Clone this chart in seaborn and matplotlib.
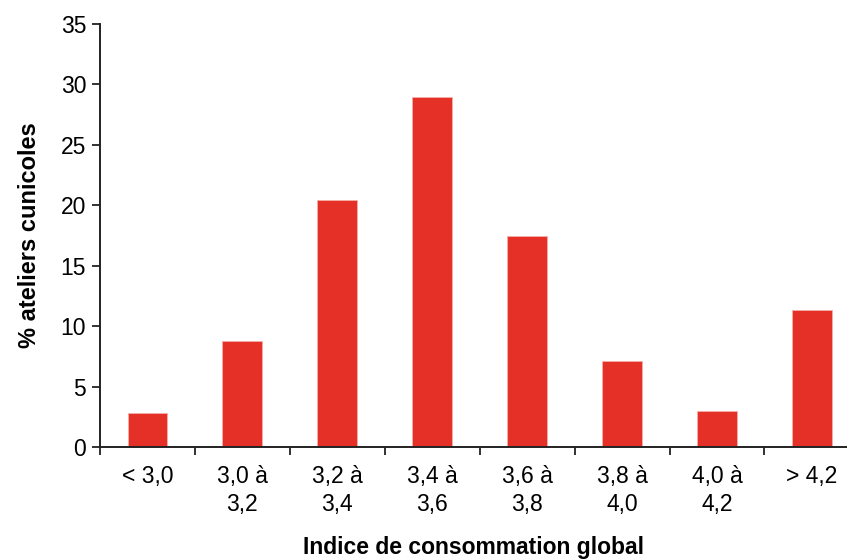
import matplotlib
matplotlib.use("Agg")
import matplotlib.pyplot as plt
import seaborn as sns
import pandas as pd
from matplotlib.ticker import FixedLocator

categories = ["< 3,0", "3,0 à\n3,2", "3,2 à\n3,4", "3,4 à\n3,6", "3,6 à\n3,8", "3,8 à\n4,0", "4,0 à\n4,2", "> 4,2"]
values = [2.8, 8.8, 20.4, 29.0, 17.5, 7.1, 3.0, 11.3]
y_ticks = [0, 5, 10, 15, 20, 25, 30, 35]

sns.set_theme(style="white")
plt.rcParams['font.family'] = ['Liberation Sans', 'DejaVu Sans']
plt.rcParams['text.color'] = 'black'
plt.rcParams['axes.labelcolor'] = 'black'
plt.rcParams['xtick.color'] = 'black'
plt.rcParams['ytick.color'] = 'black'

df = pd.DataFrame({"cat": categories, "val": values})

fig = plt.figure(figsize=(8.47, 5.59), dpi=100)
ax = fig.add_axes([100/847, 1-447/559, 1-100/847, (447-24)/559])

sns.barplot(data=df, x="cat", y="val", color="#E53027", saturation=1,
            width=0.42, edgecolor="#F6B0A8", linewidth=0.6, ax=ax)

ax.set_xlim(-0.5, 7.37)
ax.set_ylim(0, 35)
ax.set_yticks(y_ticks)
ax.set_yticklabels([str(t) for t in y_ticks], fontsize=16.5)

ax.set_xticks(range(len(categories)))
ax.set_xticklabels(categories, fontsize=16.5, linespacing=1.25, va="top")
ax.xaxis.set_minor_locator(FixedLocator([i - 0.5 for i in range(len(categories) + 1)]))
ax.tick_params(axis="x", which="major", length=0, pad=13)
ax.tick_params(axis="x", which="minor", length=6, width=1.3, color="#222222", direction="out", bottom=True)
ax.tick_params(axis="y", which="major", length=6, width=1.3, color="#222222", direction="out", left=True, pad=4)

for s in ["top", "right"]:
    ax.spines[s].set_visible(False)
for s in ["left", "bottom"]:
    ax.spines[s].set_visible(True)
    ax.spines[s].set_color("#222222")
    ax.spines[s].set_linewidth(1.4)

ax.set_xlabel("Indice de consommation global", fontsize=16.5, fontweight="bold", labelpad=15)
ax.set_ylabel("% ateliers cunicoles", fontsize=17, fontweight="bold", labelpad=14)

fig.savefig("out.png", dpi=100)
